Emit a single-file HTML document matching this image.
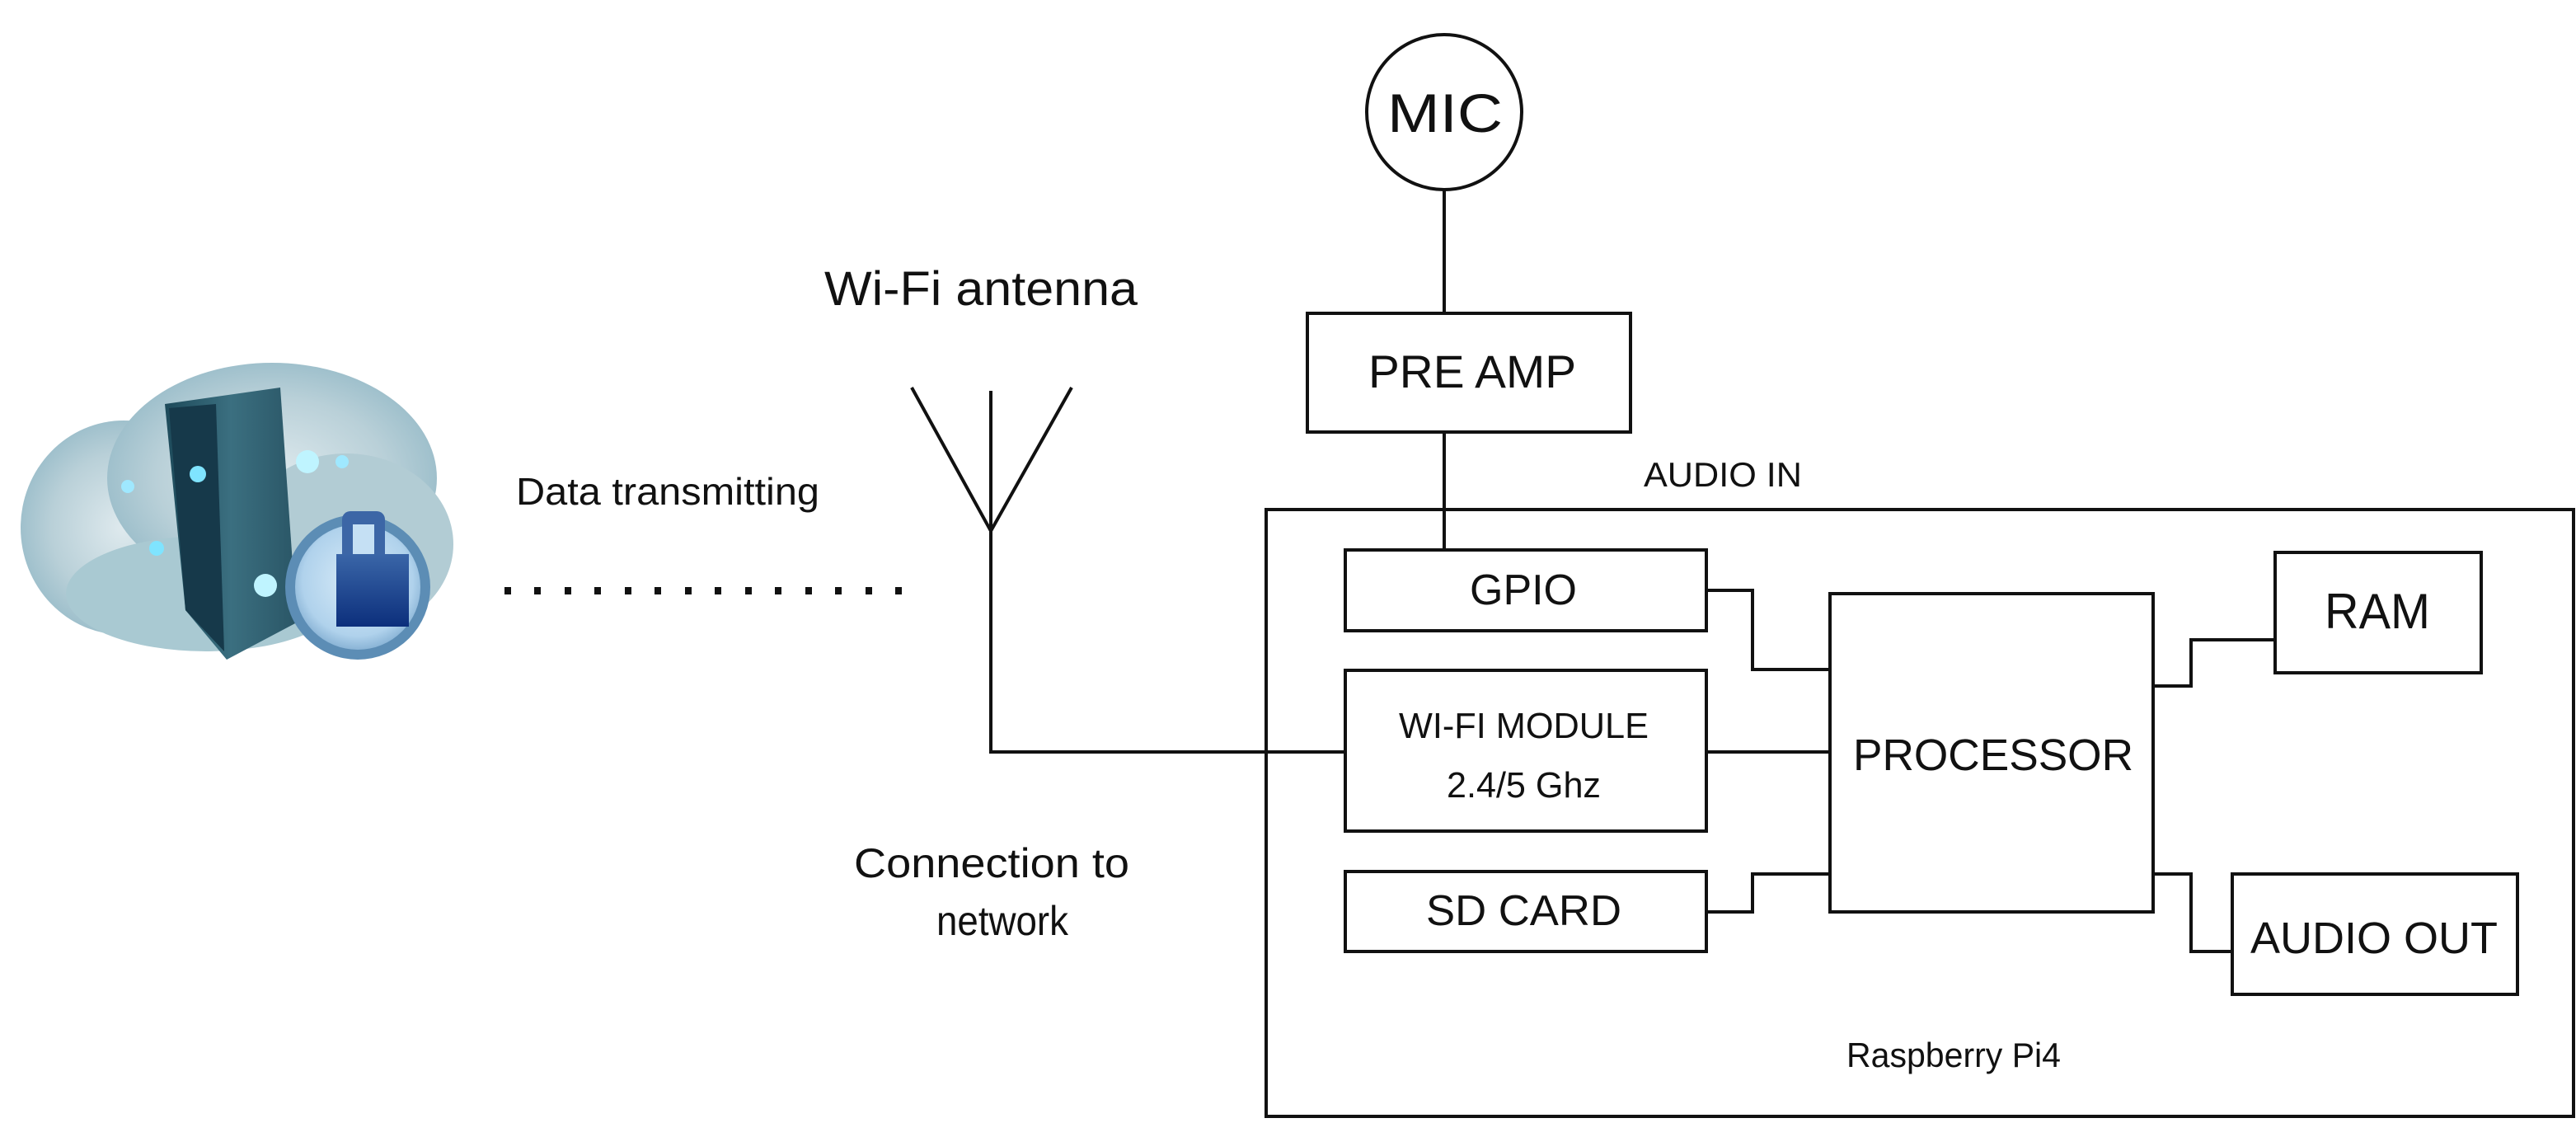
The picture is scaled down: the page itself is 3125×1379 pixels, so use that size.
<!DOCTYPE html>
<html><head><meta charset="utf-8"><style>
html,body{margin:0;padding:0;background:#fff;}
svg{display:block;}
text{font-family:"Liberation Sans",Arial,sans-serif;fill:#111;}
</style></head><body>
<svg width="3125" height="1379" viewBox="0 0 3125 1379" xmlns="http://www.w3.org/2000/svg">
<defs>
<radialGradient id="cl" cx="50%" cy="50%" r="50%"><stop offset="0" stop-color="#dfeaee"/><stop offset="0.7" stop-color="#b9d0d8"/><stop offset="1" stop-color="#9fc0cc"/></radialGradient>
<linearGradient id="srv" x1="0" x2="1"><stop offset="0" stop-color="#1d4a5a"/><stop offset="0.5" stop-color="#3b6f80"/><stop offset="1" stop-color="#2a5666"/></linearGradient>
<radialGradient id="lk" cx="50%" cy="45%" r="55%"><stop offset="0" stop-color="#d9ecf8"/><stop offset="0.8" stop-color="#b0d2ec"/><stop offset="1" stop-color="#8ab4d6"/></radialGradient>
<linearGradient id="pad" x1="0" y1="0" x2="0" y2="1"><stop offset="0" stop-color="#3a66a8"/><stop offset="1" stop-color="#0c2f7c"/></linearGradient>
</defs>
<g stroke="#111" stroke-width="4" fill="none">
<g stroke="none">
<ellipse cx="150" cy="640" rx="125" ry="130" fill="url(#cl)"/>
<ellipse cx="330" cy="580" rx="200" ry="140" fill="url(#cl)"/>
<ellipse cx="250" cy="720" rx="170" ry="70" fill="#a9c9d2"/>
<ellipse cx="420" cy="660" rx="130" ry="110" fill="#b2ccd4"/>
<polygon points="200,490 340,470 360,755 275,800 225,740" fill="url(#srv)"/>
<polygon points="205,495 262,490 272,790 225,740" fill="#16394a"/>
<circle cx="240" cy="575" r="10" fill="#7fe4ff"/><circle cx="373" cy="560" r="14" fill="#bff4ff"/>
<circle cx="322" cy="710" r="14" fill="#bff4ff"/><circle cx="190" cy="665" r="9" fill="#7fe4ff"/>
<circle cx="155" cy="590" r="8" fill="#9fe8ff"/><circle cx="415" cy="560" r="8" fill="#9fe8ff"/>
<circle cx="434" cy="712" r="88" fill="#5c8db5"/>
<circle cx="434" cy="712" r="76" fill="url(#lk)"/>
<rect x="415" y="620" width="52" height="70" rx="10" fill="#3c66a6"/>
<rect x="428" y="636" width="26" height="54" fill="#c5e0f4"/>
<rect x="408" y="672" width="88" height="88" fill="url(#pad)"/>
</g>
<g stroke="none" fill="#111">
<rect x="612" y="712" width="8" height="9"/><rect x="648" y="712" width="8" height="9"/><rect x="685" y="712" width="8" height="9"/><rect x="721" y="712" width="8" height="9"/><rect x="758" y="712" width="8" height="9"/><rect x="794" y="712" width="8" height="9"/><rect x="831" y="712" width="8" height="9"/><rect x="867" y="712" width="8" height="9"/><rect x="904" y="712" width="8" height="9"/><rect x="940" y="712" width="8" height="9"/><rect x="977" y="712" width="8" height="9"/><rect x="1013" y="712" width="8" height="9"/><rect x="1050" y="712" width="8" height="9"/><rect x="1086" y="712" width="8" height="9"/>
</g>
<polyline points="1106,470 1202,644 1300,470"/>
<polyline points="1202,474 1202,912 1632,912"/>
<circle cx="1752" cy="136" r="94"/>
<line x1="1752" y1="230" x2="1752" y2="380"/>
<rect x="1586" y="380" width="392" height="144"/>
<line x1="1752" y1="524" x2="1752" y2="667"/>
<rect x="1536" y="618" width="1586" height="736"/>
<rect x="1632" y="667" width="438" height="98"/>
<rect x="1632" y="813" width="438" height="195"/>
<rect x="1632" y="1057" width="438" height="97"/>
<rect x="2220" y="720" width="392" height="386"/>
<rect x="2760" y="670" width="250" height="146"/>
<rect x="2708" y="1060" width="346" height="146"/>
<polyline points="2070,716 2126,716 2126,812 2220,812"/>
<line x1="2070" y1="912" x2="2220" y2="912"/>
<polyline points="2070,1106 2126,1106 2126,1060 2220,1060"/>
<polyline points="2612,832 2658,832 2658,776 2760,776"/>
<polyline points="2612,1060 2658,1060 2658,1154 2708,1154"/>
</g>
<text x="1683" y="160" font-size="66" textLength="140" lengthAdjust="spacingAndGlyphs">MIC</text>
<text x="1660" y="470" font-size="56" textLength="252" lengthAdjust="spacingAndGlyphs">PRE AMP</text>
<text x="1994" y="590" font-size="42" textLength="192" lengthAdjust="spacingAndGlyphs">AUDIO IN</text>
<text x="1783" y="733" font-size="52" textLength="130" lengthAdjust="spacingAndGlyphs">GPIO</text>
<text x="1697" y="895" font-size="44" textLength="303" lengthAdjust="spacingAndGlyphs">WI-FI MODULE</text>
<text x="1755" y="967" font-size="44" textLength="187" lengthAdjust="spacingAndGlyphs">2.4/5 Ghz</text>
<text x="1730" y="1122" font-size="52" textLength="237" lengthAdjust="spacingAndGlyphs">SD CARD</text>
<text x="2248" y="934" font-size="54" textLength="340" lengthAdjust="spacingAndGlyphs">PROCESSOR</text>
<text x="2820" y="762" font-size="60" textLength="128" lengthAdjust="spacingAndGlyphs">RAM</text>
<text x="2730" y="1156" font-size="54" textLength="300" lengthAdjust="spacingAndGlyphs">AUDIO OUT</text>
<text x="2240" y="1294" font-size="42" textLength="260" lengthAdjust="spacingAndGlyphs">Raspberry Pi4</text>
<text x="1000" y="370" font-size="58" textLength="380" lengthAdjust="spacingAndGlyphs">Wi-Fi antenna</text>
<text x="626" y="612" font-size="46" textLength="368" lengthAdjust="spacingAndGlyphs">Data transmitting</text>
<text x="1036" y="1064" font-size="50" textLength="334" lengthAdjust="spacingAndGlyphs">Connection to</text>
<text x="1136" y="1134" font-size="50" textLength="160" lengthAdjust="spacingAndGlyphs">network</text>
</svg>
</body></html>
